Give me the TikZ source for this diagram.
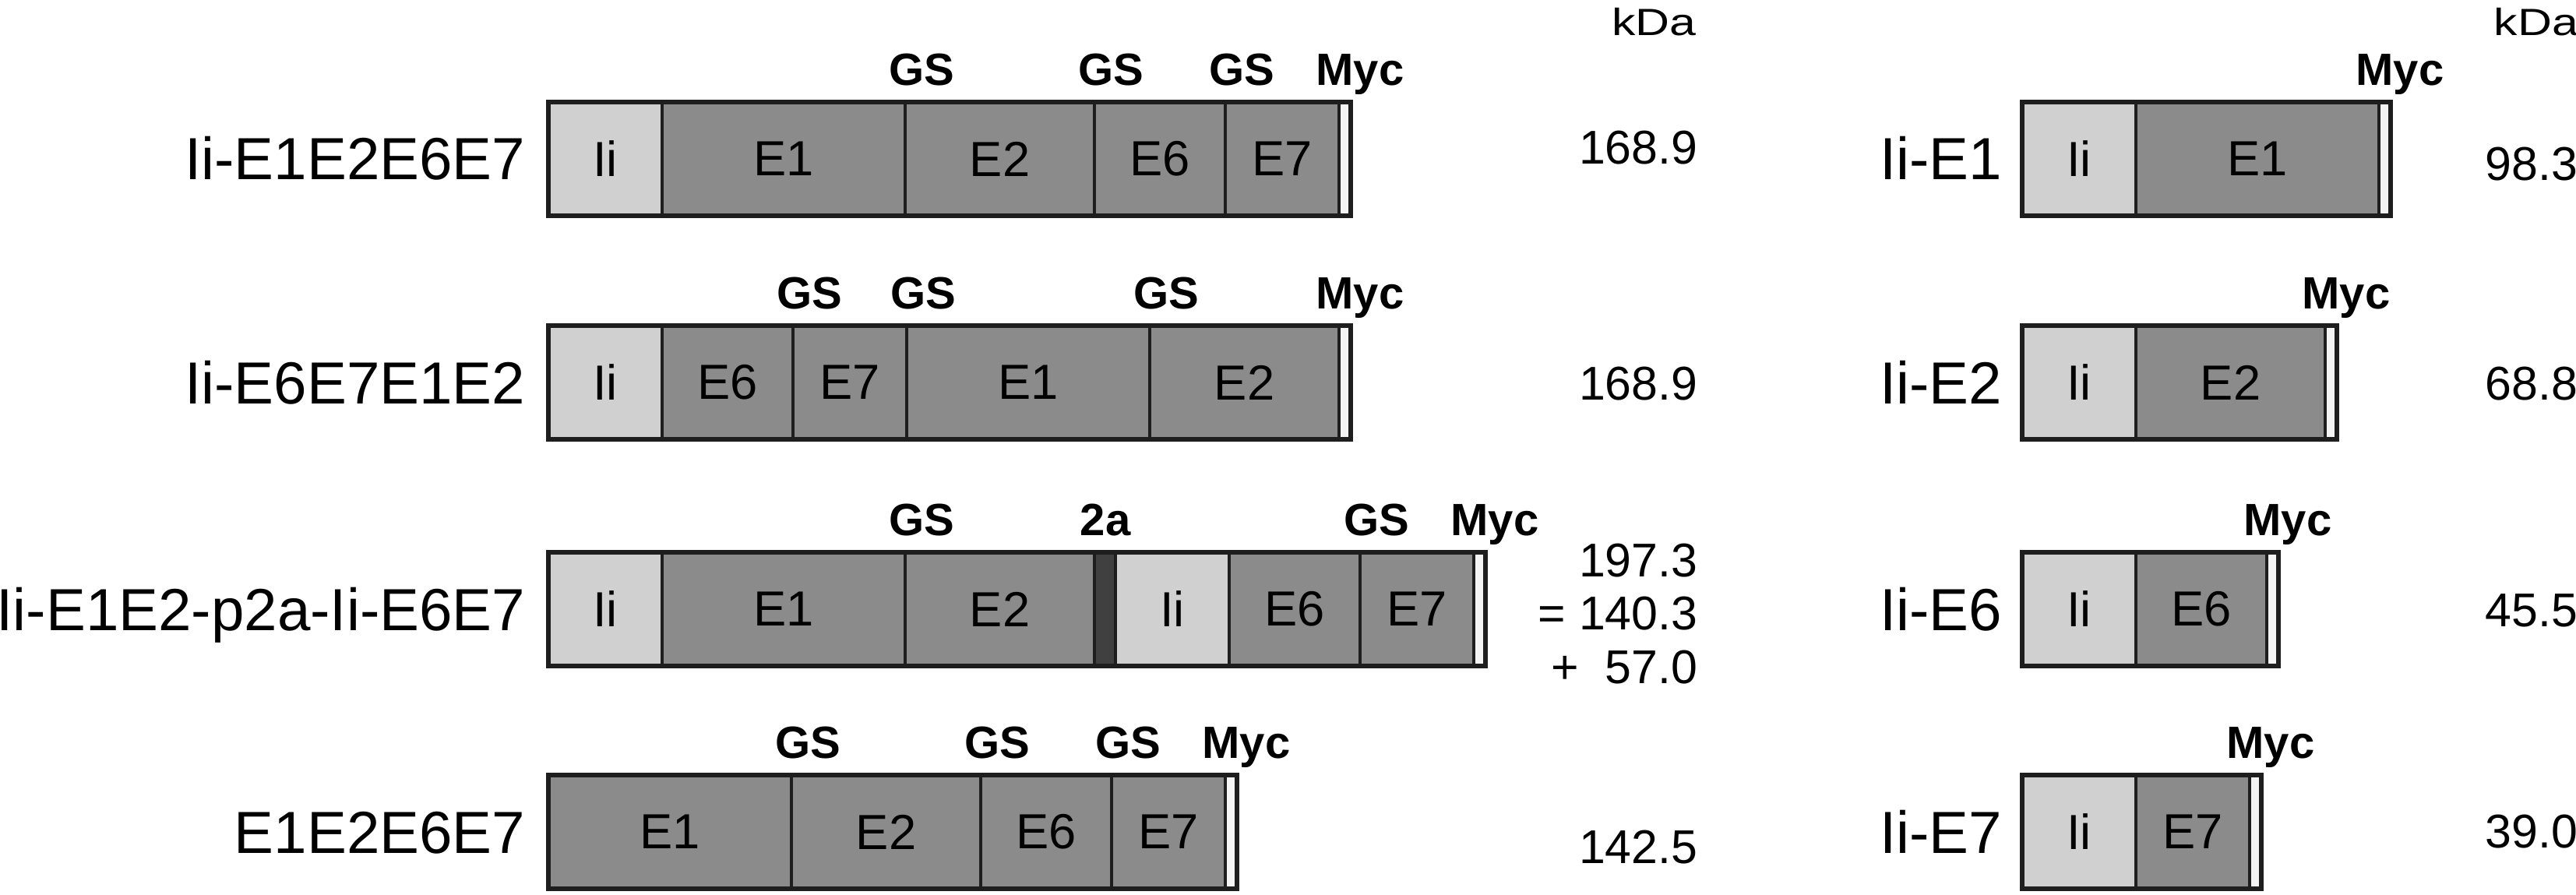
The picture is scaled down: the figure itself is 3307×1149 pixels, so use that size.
\documentclass[tikz,border=0pt]{standalone}
\usepackage{fontspec}
\setmainfont{Liberation Sans}
\usepackage{graphicx}
\usetikzlibrary{
  calc, % Fuer Koordinatenrechnung
  positioning % Fuer relative Platzierung
}

% Farben
\definecolor{rahmen}{HTML}{1E1E1E}
\definecolor{iigrau}{HTML}{D1D0D1}
\definecolor{epgrau}{HTML}{8C8B8C}
\definecolor{zweigrau}{HTML}{404040}
\definecolor{mycweiss}{HTML}{F4F4F4}

\begin{document}
\begin{tikzpicture}[
    x=0.01cm, y=-0.01cm, % Pixelraster, y nach unten
    seg/.style={draw=rahmen, line width=1pt, inner sep=0pt, outer sep=0pt,
      minimum height=1.46cm, font=\fontsize{18}{18}\selectfont}, % Abschnitt
    umriss/.style={draw=rahmen, line width=1.5pt}, % Rahmen um Konstrukt
    tag/.style={inner sep=0pt, anchor=base, font=\fontsize{16.5}{16.5}\selectfont\bfseries},
    konstrukt/.style={inner sep=0pt, anchor=base east, font=\fontsize{21.7}{21.7}\selectfont},
    zahl/.style={inner sep=0pt, font=\fontsize{17.3}{17.3}\selectfont},
  ]

  \useasboundingbox (0,0) rectangle (3307,1149);

  % Konstrukte
  \foreach \row/\y/\x/\lx/\titel/\segs in {
      a/131/704/675/Ii-E1E2E6E7/{Ii/146/iigrau, E1/312/epgrau, E2/243/epgrau, E6/168/epgrau, E7/146/epgrau, {}/15/mycweiss},
      b/418/704/675/Ii-E6E7E1E2/{Ii/146/iigrau, E6/168/epgrau, E7/146/epgrau, E1/312/epgrau, E2/243/epgrau, {}/15/mycweiss},
      c/709/704/675/Ii-E1E2-p2a-Ii-E6E7/{Ii/146/iigrau, E1/312/epgrau, E2/243/epgrau, {}/27/zweigrau, Ii/146/iigrau, E6/168/epgrau, E7/146/epgrau, {}/15/mycweiss},
      d/995/704/675/E1E2E6E7/{E1/312/epgrau, E2/243/epgrau, E6/168/epgrau, E7/146/epgrau, {}/15/mycweiss},
      e/131/2596/2571/Ii-E1/{Ii/146/iigrau, E1/312/epgrau, {}/15/mycweiss},
      f/418/2596/2571/Ii-E2/{Ii/146/iigrau, E2/243/epgrau, {}/15/mycweiss},
      g/709/2596/2571/Ii-E6/{Ii/146/iigrau, E6/168/epgrau, {}/15/mycweiss},
      h/995/2596/2571/Ii-E7/{Ii/146/iigrau, E7/146/epgrau, {}/15/mycweiss}}{
    \coordinate (\row-0) at (\x,\y+73);
    \foreach \txt/\w/\col [count=\k] in \segs {
      \pgfmathtruncatemacro\p{\k-1}
      \node[seg, fill=\col, minimum width=\w*0.01cm, right=0pt of \row-\p] (\row-\k) {\txt};
      \xdef\nseg{\k}
    }
    \draw[umriss] (\row-1.north west) rectangle (\row-\nseg.south east);
    \node[konstrukt] (\row-titel) at (\lx,\y+100) {\titel};
  }

  % GS, 2a und Myc
  \foreach \row/\k/\dx/\txt in {a/3/21/GS, a/4/21/GS, a/5/21/GS, a/6/27/Myc,
      b/3/21/GS, b/4/21/GS, b/5/21/GS, b/6/27/Myc,
      c/3/21/GS, c/4/14/2a, c/7/21/GS, c/8/27/Myc,
      d/2/21/GS, d/3/21/GS, d/4/21/GS, d/5/27/Myc,
      e/3/27/Myc, f/3/27/Myc, g/3/27/Myc, h/3/27/Myc}
    \node[tag] (\row-tag\k) at ($(\row-\k.north west)+(\dx,-21)$) {\txt};

  % Massen in kDa
  \node[zahl, anchor=base east] (kda-l) at (2178,46) {\scalebox{1}[0.8]{kDa}};
  \node[zahl, anchor=base west] (kda-r) at (3201,46) {\scalebox{1}[0.8]{kDa}};
  \foreach \row/\y/\txt in {a/211/168.9, b/513/168.9, c/740/197.3, c2/808/=~140.3,
      c3/877/+~~57.0, d/1108/142.5}
    \node[zahl, anchor=base east] (\row-masse) at (2180,\y) {\txt};
  \foreach \row/\y/\txt in {e/232/98.3, f/513/68.8, g/804/45.5, h/1088/39.0}
    \node[zahl, anchor=base west] (\row-masse) at (3190,\y) {\txt};

\end{tikzpicture}
\end{document}
